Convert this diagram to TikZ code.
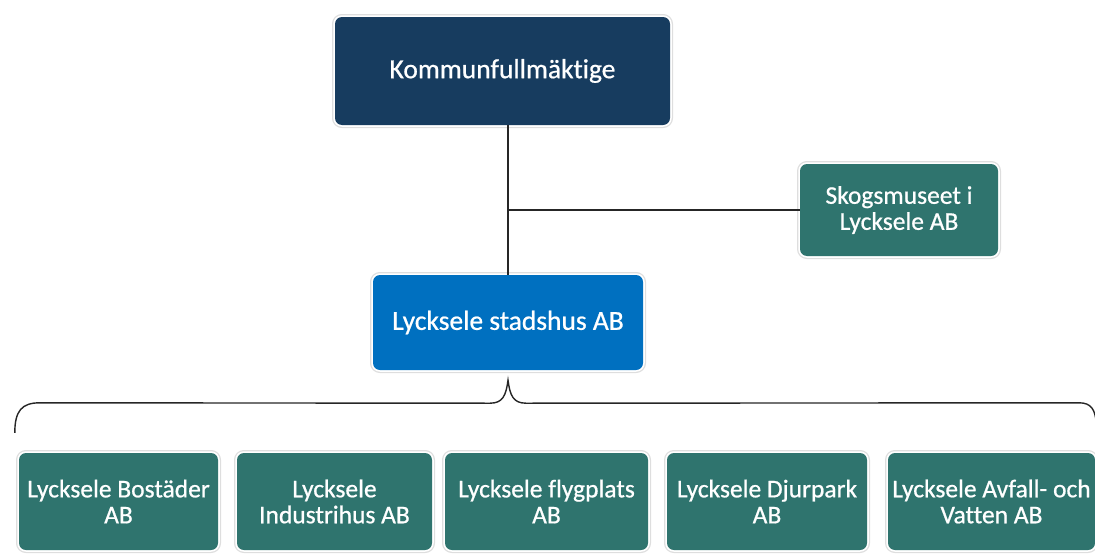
\documentclass[tikz,border=0pt]{standalone}
\usepackage{fontspec}
\setmainfont{Carlito}
\newfontfamily\boxfont{Carlito}[FakeBold=0.7, Ligatures=NoCommon]
\usetikzlibrary{calc}
\definecolor{navybox}{RGB}{23,60,95}
\definecolor{bluebox}{RGB}{0,112,192}
\definecolor{tealbox}{RGB}{47,116,110}
\begin{document}
\begin{tikzpicture}[x=1pt, y=-1pt,
    box/.style={rounded corners=7pt, text=white, align=center, inner sep=2pt,
        preaction={draw=black!13, line width=6pt},
        preaction={draw=white, line width=3.5pt}},
    bigbox/.style={box, font=\boxfont\fontsize{27.5}{28}\selectfont},
    unitbox/.style={box, fill=tealbox, minimum height=97pt, font=\boxfont\fontsize{25.5}{26}\selectfont},
    link/.style={draw=black!85, line width=1.4pt}]
    \useasboundingbox (0,0) rectangle (1095,554);

    \node[bigbox, fill=navybox, minimum width=335pt, minimum height=108pt] (kf) at (502.5, 71) {Kommunfullmäktige};
    \node[box, fill=tealbox, minimum width=198pt, minimum height=92pt, font=\boxfont\fontsize{25.5}{26}\selectfont] (sk) at (899, 210) {Skogsmuseet i\\Lycksele AB};
    \node[bigbox, fill=bluebox, minimum width=270pt, minimum height=95pt] (stad) at (508, 322.5) {Lycksele stadshus AB};

    \node[unitbox, minimum width=199pt] (b1) at (118.5, 501.5) {Lycksele Bostäder\\AB};
    \node[unitbox, minimum width=195pt] (b2) at (334.5, 501.5) {Lycksele\\Industrihus AB};
    \node[unitbox, minimum width=203pt] (b3) at (546.5, 501.5) {Lycksele flygplats\\AB};
    \node[unitbox, minimum width=200pt] (b4) at (767, 501.5) {Lycksele Djurpark\\AB};
    \node[unitbox, minimum width=207pt] (b5) at (991.5, 501.5) {Lycksele Avfall- och\\Vatten AB};

    \coordinate (tip) at ([yshift=-10pt]stad.south);
    \coordinate (bl) at ([xshift=-4pt, yshift=20pt]b1.north west);
    \coordinate (br) at ([xshift=1pt, yshift=30pt]b5.north east);

    \draw[link] (kf.south -| stad.north) -- (stad.north);
    \draw[link] (sk.west) -- (sk.west -| stad.north);
    \draw[link] (bl) .. controls ($(bl)+(0,-22)$) and ($(bl)+(7,-30)$) .. ($(bl)+(25,-30)$)
        -- ($(tip)+(-18,23)$) .. controls ($(tip)+(-5,23)$) and ($(tip)+(-2,15)$) .. (tip)
        .. controls ($(tip)+(2,15)$) and ($(tip)+(5,23)$) .. ($(tip)+(18,23)$)
        -- ($(br)+(-17,-20)$) .. controls ($(br)+(-5,-20)$) and ($(br)+(-1,-13)$) .. (br);
\end{tikzpicture}
\end{document}
